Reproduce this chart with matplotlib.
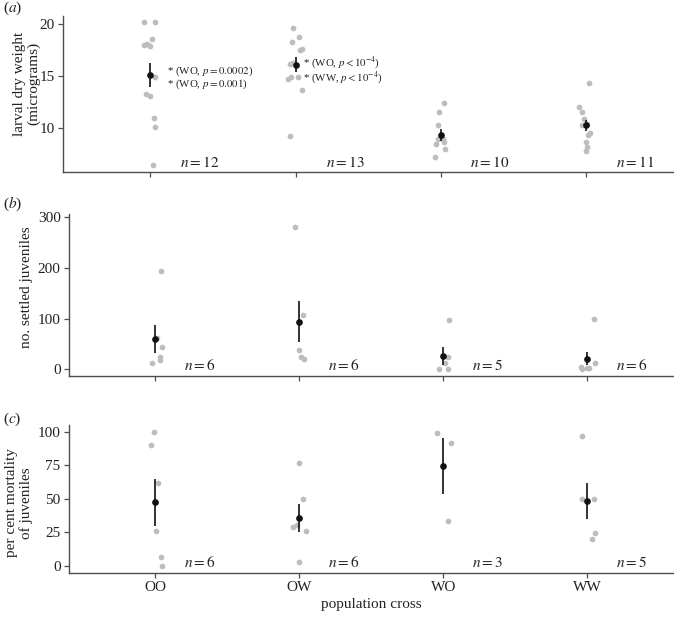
#################  IMPORT  ###################

import numpy as np
import matplotlib as mpl
mpl.use('Agg')
import matplotlib.pyplot as plt
import matplotlib.transforms as mtrans

##################  FONTS  ###################

mpl.rcParams['font.family'] = ['Liberation Serif', 'DejaVu Serif']
mpl.rcParams['mathtext.fontset'] = 'stix'
mpl.rcParams['font.size'] = 10.5

###################  DATA  ###################

cats = ['OO', 'OW', 'WO', 'WW']

# (a) larval dry weight -- individual points and their jitter
wt_OO = [20.16, 20.2, 18.56, 17.98, 18.05, 17.88, 14.9, 13.24, 13.1, 10.93, 10.13, 6.44]
wt_OO_jit = [-0.044, 0.034, 0.011, -0.046, -0.023, -0.005, 0.03, -0.032, -0.005, 0.023, 0.034, 0.018]
wt_OW = [19.58, 18.3, 18.72, 17.5, 17.6, 16.2, 16.28, 16.1, 14.7, 14.93, 14.93, 13.65, 9.23]
wt_OW_jit = [-0.017, -0.023, 0.023, 0.03, 0.041, -0.04, -0.017, 0.0, -0.051, -0.028, 0.018, 0.041, -0.04]
wt_WO = [12.37, 11.5, 10.32, 9.1, 8.91, 8.94, 8.62, 8.43, 7.95, 7.21]
wt_WO_jit = [0.021, -0.014, -0.019, 0.0, -0.019, 0.016, 0.023, -0.03, 0.03, -0.037]
wt_WW = [14.3, 12.05, 11.5, 10.9, 10.29, 10.4, 9.55, 9.33, 8.62, 8.14, 7.76]
wt_WW_jit = [0.023, -0.048, -0.03, -0.014, -0.025, 0.01, 0.028, 0.016, 0.0, 0.009, 0.0]
wt_mean = [15.1, 16.06, 9.33, 10.26]
wt_lo = [13.91, 15.36, 8.75, 9.74]
wt_hi = [16.28, 16.8, 9.88, 10.77]
wt_n = [12, 13, 10, 11]

# (b) settled juveniles
sj_OO = [194.5, 62.3, 44, 23.7, 18.3, 12.4]
sj_OO_jit = [0.039, 0.014, 0.044, 0.03, 0.03, -0.021]
sj_OW = [280.7, 107.7, 94, 37.5, 23.7, 19.7]
sj_OW_jit = [-0.028, 0.023, 0.0, 0.0, 0.009, 0.033]
sj_WO = [97.2, 24.9, 11.8, 0.6, 0.6]
sj_WO_jit = [0.042, 0.035, 0.012, -0.028, 0.035]
sj_WW = [98.6, 11.8, 3.9, 3.7, 0.6, 3.2]
sj_WW_jit = [0.044, 0.051, -0.044, 0.0, -0.037, 0.016]
sj_mean = [59.8, 93.9, 26.8, 20.3]
sj_lo = [31.6, 53.3, 8.5, 8.5]
sj_hi = [86.8, 134.7, 44.6, 34.7]
sj_n = [6, 6, 5, 6]

# (c) per cent mortality
mo_OO = [100, 90.1, 61.8, 26.1, 6.9, 0]
mo_OO_jit = [-0.007, -0.03, 0.021, 0.004, 0.039, 0.049]
mo_OW = [76.5, 49.9, 28.8, 30.5, 26.3, 2.7]
mo_OW_jit = [0.0, 0.023, -0.042, -0.014, 0.044, -0.005]
mo_WO = [98.8, 91.8, 33.3]
mo_WO_jit = [-0.046, 0.052, 0.031]
mo_WW = [96.8, 49.9, 49.9, 24.8, 19.9]
mo_WW_jit = [-0.037, -0.033, 0.044, 0.054, 0.035]
mo_mean = [47.4, 36.0, 74.7, 48.4]
mo_lo = [30.0, 25.5, 53.8, 34.8]
mo_hi = [64.8, 45.9, 95.1, 61.8]
mo_n = [6, 6, 3, 5]

##################  COLORS  ##################

grey_pt = '#bdbdbd'
mean_c = '#111111'
axis_c = '#4d4d4d'
text_c = '#222222'

################  PLOT SETUP  ################

fig = plt.figure(figsize=(6.74, 6.17), dpi=100)
ax_a = fig.add_axes([0.0939, 0.7207, 0.9046, 0.2533])
ax_b = fig.add_axes([0.1024, 0.3906, 0.8969, 0.2626])
ax_c = fig.add_axes([0.1024, 0.0718, 0.8969, 0.2394])

panels = [
    (ax_a, [wt_OO, wt_OW, wt_WO, wt_WW], [wt_OO_jit, wt_OW_jit, wt_WO_jit, wt_WW_jit],
     wt_mean, wt_lo, wt_hi, wt_n, (5.74, 20.77), [10, 15, 20], 0.34),
    (ax_b, [sj_OO, sj_OW, sj_WO, sj_WW], [sj_OO_jit, sj_OW_jit, sj_WO_jit, sj_WW_jit],
     sj_mean, sj_lo, sj_hi, sj_n, (-13, 306), [0, 100, 200, 300], 0.31),
    (ax_c, [mo_OO, mo_OW, mo_WO, mo_WW], [mo_OO_jit, mo_OW_jit, mo_WO_jit, mo_WW_jit],
     mo_mean, mo_lo, mo_hi, mo_n, (-5, 105), [0, 25, 50, 75, 100], 0.31),
]

xpos = np.arange(1, len(cats) + 1)

for ax, pts, jits, mean, lo, hi, nn, ylim, yt, noff in panels:
    for i, (p, j) in enumerate(zip(pts, jits)):
        ax.scatter(xpos[i] + np.array(j), p, s=17, color=grey_pt, linewidths=0, zorder=2)
    ax.vlines(xpos, lo, hi, color=mean_c, linewidth=1.2, zorder=3)
    ax.plot(xpos, mean, 'o', color=mean_c, markersize=3.8, zorder=4)
    trans = mtrans.blended_transform_factory(ax.transData, ax.transAxes)
    for i, n in enumerate(nn):
        ax.text(xpos[i] + noff, 0.018, r'$n = %d$' % n, transform=trans,
                ha='center', va='bottom', fontsize=11, color=text_c)
    ax.set_xlim(0.4, 4.6)
    ax.set_ylim(*ylim)
    ax.set_yticks(yt)
    ax.set_xticks(xpos)
    for s in ['top', 'right']:
        ax.spines[s].set_visible(False)
    for s in ['left', 'bottom']:
        ax.spines[s].set_color(axis_c)
        ax.spines[s].set_linewidth(1.0)
    ax.tick_params(axis='both', colors=axis_c, labelcolor=text_c, length=3.5,
                   width=0.9, labelsize=11, pad=2.5)

ax_a.set_xticklabels([])
ax_b.set_xticklabels([])
ax_c.set_xticklabels(cats)

ax_a.set_ylabel('larval dry weight\n(micrograms)', fontsize=11, color=text_c, linespacing=1.1)
ax_a.yaxis.set_label_coords(-0.038, 0.568)
ax_b.set_ylabel('no. settled juveniles', fontsize=11, color=text_c)
ax_b.yaxis.set_label_coords(-0.059, 0.546)
ax_c.set_ylabel('per cent mortality\nof juveniles', fontsize=11, color=text_c, linespacing=1.1)
ax_c.yaxis.set_label_coords(-0.06, 0.472)
ax_c.set_xlabel('population cross', fontsize=11, color=text_c, labelpad=3)

# significance notes
ax_a.text(1.113, 15.2, r'* (WO, $p = 0.0002$)', fontsize=7.8, color=text_c, va='baseline')
ax_a.text(1.113, 13.95, r'* (WO, $p = 0.001$)', fontsize=7.8, color=text_c, va='baseline')
ax_a.text(2.05, 16.0, r'* (WO, $p < 10^{-4}$)', fontsize=7.8, color=text_c, va='baseline')
ax_a.text(2.05, 14.55, r'* (WW, $p < 10^{-4}$)', fontsize=7.8, color=text_c, va='baseline')

# panel letters
fig.text(0.004, 1 - 8 / 617, r'($a$)', fontsize=11, va='center', color=text_c)
fig.text(0.004, 1 - 204 / 617, r'($b$)', fontsize=11, va='center', color=text_c)
fig.text(0.004, 1 - 419 / 617, r'($c$)', fontsize=11, va='center', color=text_c)

##################  OUTPUT  ##################

plt.savefig('out.png', dpi=100)
